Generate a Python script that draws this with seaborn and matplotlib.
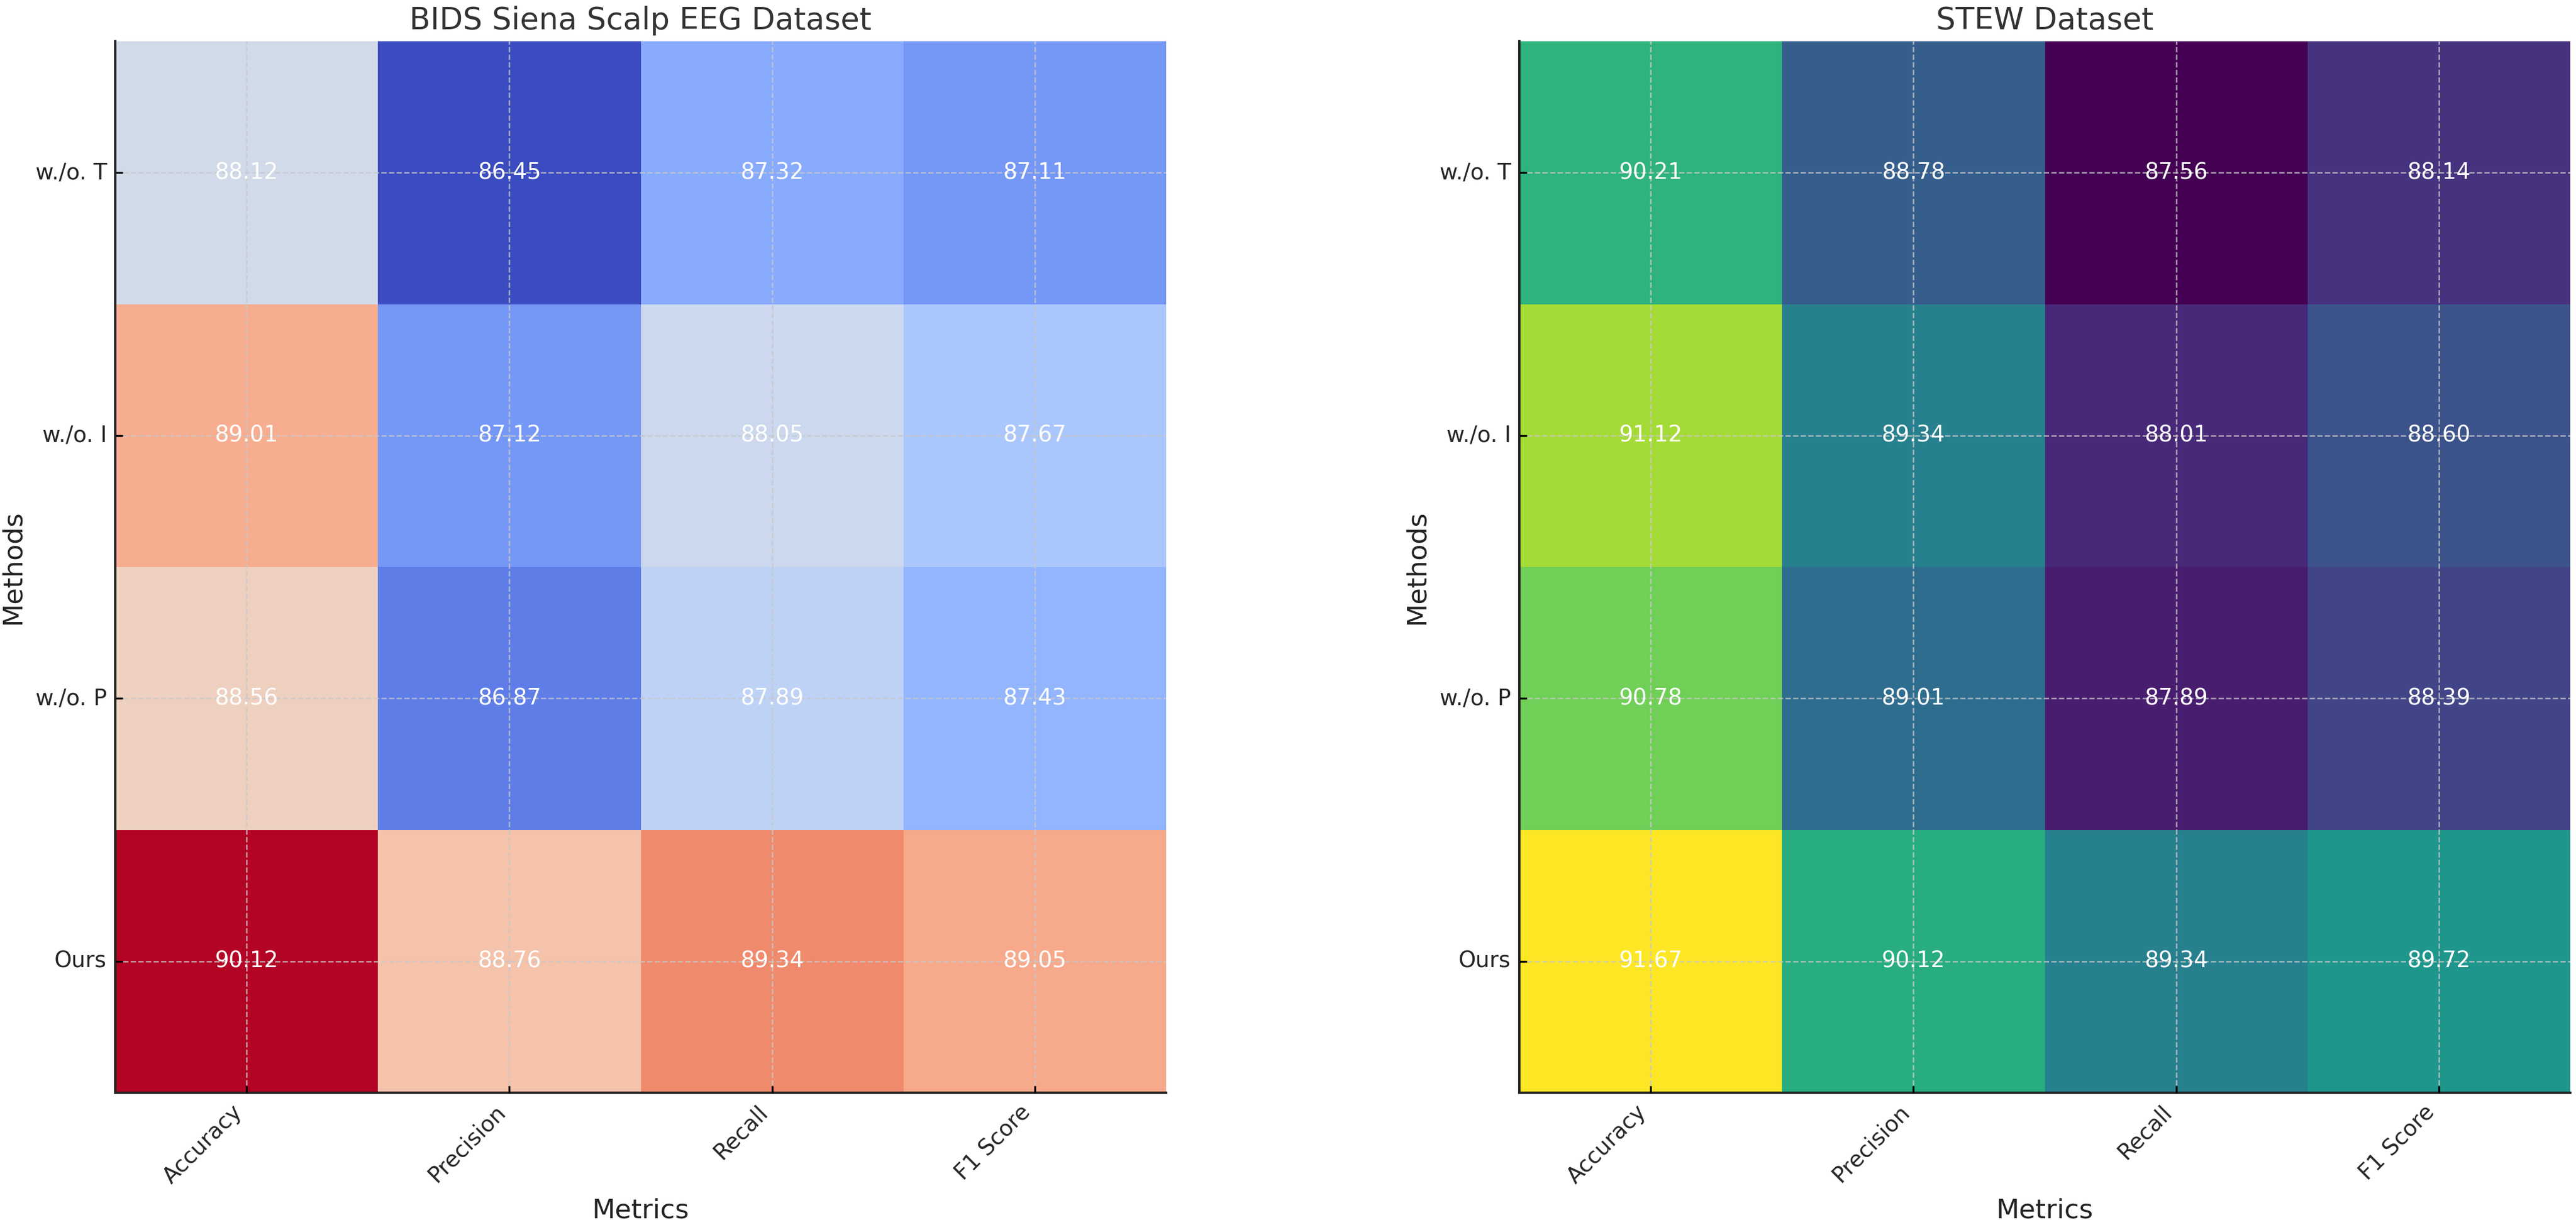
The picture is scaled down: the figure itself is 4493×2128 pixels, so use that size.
import numpy as np
import pandas as pd
import seaborn as sns
import matplotlib
matplotlib.use("Agg")
import matplotlib.pyplot as plt

sns.set_style("white")
plt.rcParams["font.family"] = ["DejaVu Sans"]

methods = ["w./o. T", "w./o. I", "w./o. P", "Ours"]
metrics = ["Accuracy", "Precision", "Recall", "F1 Score"]

# BIDS Siena Scalp EEG
bids_accuracy = [88.12, 89.01, 88.56, 90.12]
bids_precision = [86.45, 87.12, 86.87, 88.76]
bids_recall = [87.32, 88.05, 87.89, 89.34]
bids_f1 = [87.11, 87.67, 87.43, 89.05]

# STEW
stew_accuracy = [90.21, 91.12, 90.78, 91.67]
stew_precision = [88.78, 89.34, 89.01, 90.12]
stew_recall = [87.56, 88.01, 87.89, 89.34]
stew_f1 = [88.14, 88.60, 88.39, 89.72]

bids = pd.DataFrame(
    {"Accuracy": bids_accuracy, "Precision": bids_precision,
     "Recall": bids_recall, "F1 Score": bids_f1}, index=methods)
stew = pd.DataFrame(
    {"Accuracy": stew_accuracy, "Precision": stew_precision,
     "Recall": stew_recall, "F1 Score": stew_f1}, index=methods)

W, H = 4493, 2128
fig = plt.figure(figsize=(W / 300, H / 300), dpi=300)
ax1 = fig.add_axes([201 / W, 1 - 1906 / H, 1833 / W, 1834 / H])
ax2 = fig.add_axes([2650 / W, 1 - 1906 / H, 1833 / W, 1834 / H])

panels = [(ax1, bids, "coolwarm", "BIDS Siena Scalp EEG Dataset"),
          (ax2, stew, "viridis", "STEW Dataset")]

for ax, df, cmap, title in panels:
    sns.heatmap(df, ax=ax, cmap=cmap, annot=True, fmt=".2f", cbar=False,
                annot_kws={"color": "white", "fontsize": 9.3})
    ax.set_title(title, fontsize=12.8, color="#333333", pad=5)
    ax.set_xlabel("Metrics", fontsize=11.2, color="#222222")
    ax.set_ylabel("Methods", fontsize=11.2, color="#222222")
    ax.set_xticklabels(ax.get_xticklabels(), rotation=45, ha="right", fontsize=9.3)
    ax.set_yticklabels(ax.get_yticklabels(), rotation=0, fontsize=9.3)
    ax.tick_params(direction="in", length=3, width=0.8, color="black",
                   bottom=True, left=True)
    ax.grid(True, linestyle="--", linewidth=0.6, color="#c8c8c8", alpha=0.8)
    ax.set_axisbelow(False)
    for side in ["left", "bottom"]:
        ax.spines[side].set_visible(True)
        ax.spines[side].set_color("#222222")
        ax.spines[side].set_linewidth(1.0)
    for side in ["top", "right"]:
        ax.spines[side].set_visible(False)

fig.savefig("out.png", dpi=300)
